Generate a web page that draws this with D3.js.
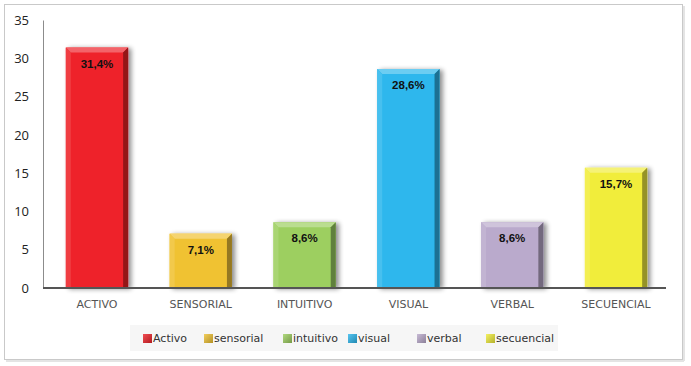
<!DOCTYPE html>
<html><head><meta charset="utf-8">
<script src="https://cdn.jsdelivr.net/npm/d3@7"></script>
<style>html,body{margin:0;padding:0;background:#fff;}svg{display:block;}</style>
</head><body>
<svg id="c" width="691" height="366"></svg>
<script>
const categories = ["ACTIVO","SENSORIAL","INTUITIVO","VISUAL","VERBAL","SECUENCIAL"];
const legendNames = ["Activo","sensorial","intuitivo","visual","verbal","secuencial"];
const values = [31.4, 7.1, 8.6, 28.6, 8.6, 15.7];
const labels = ["31,4%","7,1%","8,6%","28,6%","8,6%","15,7%"];
const colors = ["#ee2229","#f0c233","#9dcf60","#2db7ed","#baaacc","#f1ed3b"];
const yTicks = [0,5,10,15,20,25,30,35];

const svg = d3.select("#c");
const W = 691, H = 366;
const m = {l:43, r:21, t:20, b:78};

// outer frame
svg.append("rect").attr("x",4.5).attr("y",4.5).attr("width",678).attr("height",355)
  .attr("fill","#fff").attr("stroke","#c9c9c9").attr("stroke-width",1);
svg.append("line").attr("x1",684).attr("x2",684).attr("y1",6).attr("y2",361).attr("stroke","#e4e4e4").attr("stroke-width",2);
svg.append("line").attr("x1",6).attr("x2",684).attr("y1",361).attr("y2",361).attr("stroke","#e4e4e4").attr("stroke-width",2);

const x = d3.scaleBand().domain(categories).range([m.l, W-m.r]).paddingInner(0.4).paddingOuter(0.22);
const y = d3.scaleLinear().domain([0,35]).range([H-m.b, m.t]);

const defs = svg.append("defs");
const f = defs.append("filter").attr("id","sh").attr("x","-20%").attr("y","-20%").attr("width","150%").attr("height","140%");
f.append("feGaussianBlur").attr("in","SourceAlpha").attr("stdDeviation",2.4).attr("result","b");
f.append("feOffset").attr("in","b").attr("dx",3).attr("dy",1).attr("result","o");
f.append("feComponentTransfer").attr("in","o").attr("result","o2").append("feFuncA").attr("type","linear").attr("slope",0.45);
const fm = f.append("feMerge"); fm.append("feMergeNode").attr("in","o2"); fm.append("feMergeNode").attr("in","SourceGraphic");

// y axis
const yAxis = d3.axisLeft(y).tickValues(yTicks).tickSize(0).tickPadding(14);
const ya = svg.append("g").attr("transform",`translate(${m.l},0)`).call(yAxis);
ya.select(".domain").attr("stroke","#8c8c8c").attr("stroke-width",1);
ya.selectAll("text").attr("font-family","'Open Sans', sans-serif").attr("font-size",13).attr("fill","#222");

// bars
const bars = svg.append("g").selectAll("g").data(values).enter().append("g").attr("filter","url(#sh)");
const bev = 5;
bars.each(function(v,i){
  const g = d3.select(this);
  const x0 = x(categories[i]), w = x.bandwidth();
  const y0 = y(v), y1 = y(0);
  const c = d3.color(colors[i]);
  g.append("rect").attr("x",x0).attr("y",y0).attr("width",w).attr("height",y1-y0).attr("fill",c);
  g.append("polygon").attr("points",[[x0,y0],[x0+w,y0],[x0+w-bev,y0+bev],[x0+bev,y0+bev]].join(" "))
    .attr("fill",d3.interpolateRgb(c,"#fff")(0.3));
  g.append("polygon").attr("points",[[x0,y0],[x0+bev,y0+bev],[x0+bev,y1],[x0,y1]].join(" "))
    .attr("fill",d3.interpolateRgb(c,"#fff")(0.12));
  g.append("polygon").attr("points",[[x0+w,y0],[x0+w-bev,y0+bev],[x0+w-bev,y1],[x0+w,y1]].join(" "))
    .attr("fill",d3.interpolateRgb(c,"#000")(0.38));
});

// x axis
const xAxis = d3.axisBottom(x).tickSize(0).tickPadding(12);
const xa = svg.append("g").attr("transform",`translate(0,${y(0)})`).call(xAxis);
xa.select(".domain").attr("stroke","#555").attr("stroke-width",2).attr("d",`M${m.l},0H666`);
xa.selectAll("text").attr("font-family","'DejaVu Sans', sans-serif").attr("font-size",11).attr("fill","#555");

// value labels
svg.append("g").selectAll("text").data(values).enter().append("text")
  .attr("x",(d,i)=>x(categories[i])+x.bandwidth()/2).attr("y",d=>y(d)+20)
  .attr("text-anchor","middle").attr("font-family","'Liberation Sans', sans-serif").attr("font-weight","bold")
  .attr("font-size",11.5).attr("fill","#111").text((d,i)=>labels[i]);

// legend
const lg = svg.append("g");
lg.append("rect").attr("x",130).attr("y",325).attr("width",428).attr("height",26).attr("fill","#f6f6f6");
const lx = [143,204,283,348,417,486];
legendNames.forEach((n,i)=>{
  const c = d3.color(colors[i]);
  const gid = "lg"+i;
  const gr = defs.append("linearGradient").attr("id",gid).attr("x1","0").attr("y1","0").attr("x2","1").attr("y2","1");
  gr.append("stop").attr("offset","0").attr("stop-color",d3.interpolateRgb(c,"#fff")(0.2));
  gr.append("stop").attr("offset","1").attr("stop-color",d3.interpolateRgb(c,"#000")(0.25));
  lg.append("rect").attr("x",lx[i]).attr("y",334).attr("width",9).attr("height",9).attr("fill",`url(#${gid})`);
  lg.append("text").attr("x",lx[i]+10).attr("y",342).attr("font-family","'DejaVu Sans', sans-serif")
    .attr("font-size",11).attr("fill","#333").text(n);
});
</script>
</body></html>
